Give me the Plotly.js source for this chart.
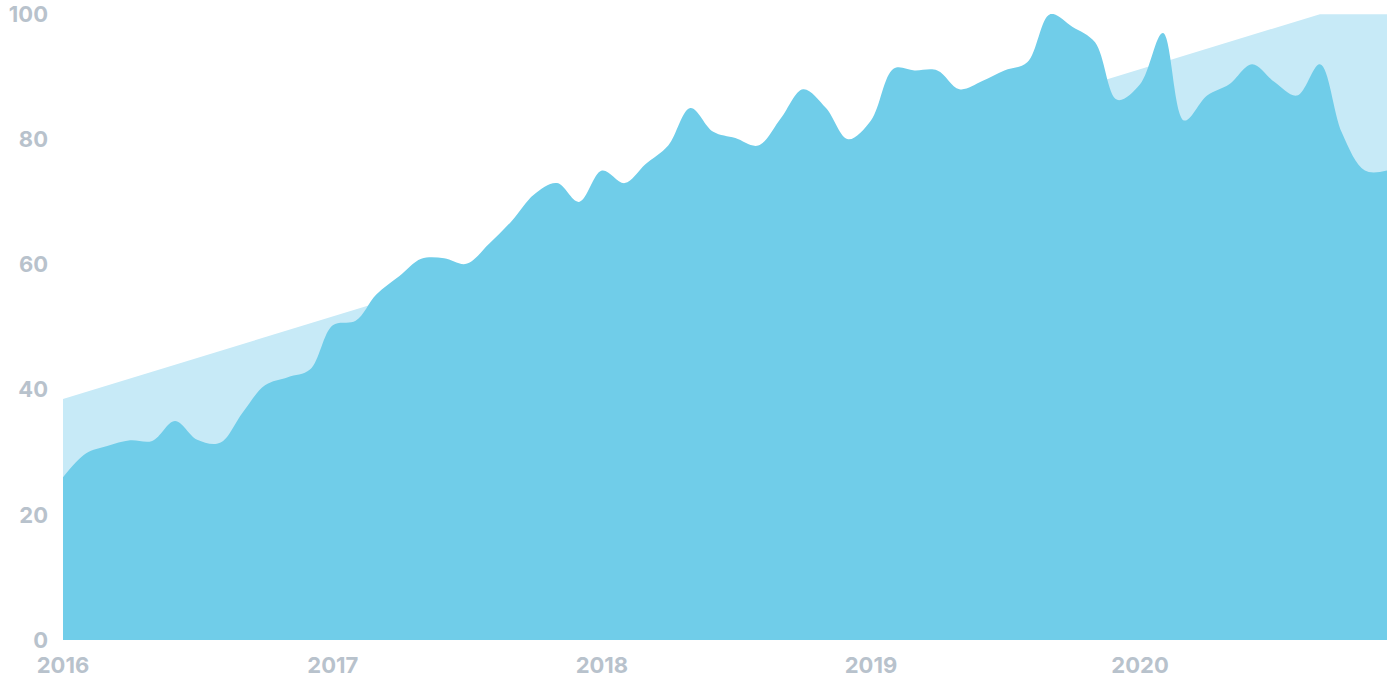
<!DOCTYPE html>
<html>
<head>
<meta charset="utf-8">
<script src="https://cdn.plot.ly/plotly-3.0.1.min.js"></script>
<style>
  html, body { margin: 0; padding: 0; background: #ffffff; }
  #chart { width: 1392px; height: 696px; }
</style>
</head>
<body>
<div id="chart"></div>
<script>
const months = [
  "2016-01-01","2016-02-01","2016-03-01","2016-04-01","2016-05-01","2016-06-01",
  "2016-07-01","2016-08-01","2016-09-01","2016-10-01","2016-11-01","2016-12-01",
  "2017-01-01","2017-02-01","2017-03-01","2017-04-01","2017-05-01","2017-06-01",
  "2017-07-01","2017-08-01","2017-09-01","2017-10-01","2017-11-01","2017-12-01",
  "2018-01-01","2018-02-01","2018-03-01","2018-04-01","2018-05-01","2018-06-01",
  "2018-07-01","2018-08-01","2018-09-01","2018-10-01","2018-11-01","2018-12-01",
  "2019-01-01","2019-02-01","2019-03-01","2019-04-01","2019-05-01","2019-06-01",
  "2019-07-01","2019-08-01","2019-09-01","2019-10-01","2019-11-01","2019-12-01",
  "2020-01-01","2020-02-01","2020-03-01","2020-04-01","2020-05-01","2020-06-01",
  "2020-07-01","2020-08-01","2020-09-01","2020-10-01","2020-11-01","2020-12-01"
];
const values = [
  26.0, 29.8, 31.0, 31.9, 31.8, 35.0, 32.0, 31.5, 36.4, 40.7, 42.0, 43.2,
  50.3, 51.0, 55.2, 58.1, 60.9, 61.0, 60.1, 63.3, 67.0, 71.2, 73.0, 70.0,
  75.0, 73.0, 76.0, 79.0, 85.0, 81.2, 80.2, 79.0, 83.4, 88.0, 85.0, 80.0,
  83.0, 91.3, 91.0, 91.0, 88.0, 89.3, 91.0, 92.3, 100.0, 98.0, 95.5, 86.3,
  88.8, 97.0, 83.0, 87.0, 88.8, 92.0, 89.2, 87.0, 92.0, 81.0, 75.0, 75.0
];
const trendDates = ["2016-01-01", "2020-09-01", "2020-12-01"];
const trendValues = [38.5, 100, 100];
const yTicks = [0, 20, 40, 60, 80, 100];
const xTicks = ["2016-01-01","2017-01-01","2018-01-01","2019-01-01","2020-01-01"];
const xTickText = ["2016","2017","2018","2019","2020"];

const traces = [
  {
    x: trendDates, y: trendValues, type: "scatter", mode: "lines",
    line: { width: 0, color: "rgba(0,0,0,0)" },
    fill: "tozeroy", fillcolor: "#c7eaf7", hoverinfo: "skip"
  },
  {
    x: months, y: values, type: "scatter", mode: "lines",
    line: { width: 0, shape: "spline", smoothing: 1, color: "rgba(0,0,0,0)" },
    fill: "tozeroy", fillcolor: "#70cde9", hoverinfo: "skip"
  }
];

const tickFont = { family: "Inter, sans-serif", size: 22, color: "#b8c2cc", weight: 700 };

const layout = {
  width: 1392, height: 696,
  margin: { l: 63, r: 5, t: 14, b: 56 },
  paper_bgcolor: "#ffffff", plot_bgcolor: "#ffffff",
  showlegend: false,
  hovermode: false,
  xaxis: {
    type: "date",
    range: ["2016-01-01", "2020-12-01"],
    tickvals: xTicks, ticktext: xTickText,
    showgrid: false, zeroline: false, showline: false, ticks: "",
    tickfont: tickFont, ticklabelstandoff: 10
  },
  yaxis: {
    range: [0, 100.02],
    tickvals: yTicks,
    showgrid: false, zeroline: false, showline: false, ticks: "",
    tickfont: tickFont, ticklabelstandoff: 14
  }
};

Plotly.newPlot("chart", traces, layout, { displayModeBar: false, staticPlot: true });
</script>
</body>
</html>
